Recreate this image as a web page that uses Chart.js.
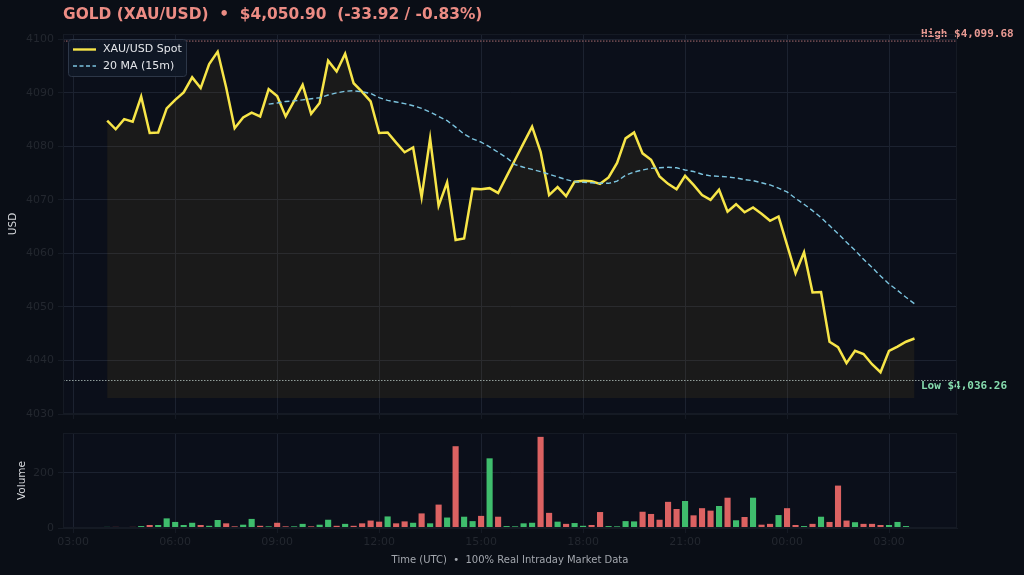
<!DOCTYPE html>
<html>
<head>
<meta charset="utf-8">
<script src="https://cdn.jsdelivr.net/npm/chart.js@4.4.1/dist/chart.umd.min.js"></script>
<style>
  html, body { margin: 0; padding: 0; background: #0a0e16; }
  #wrap { position: relative; width: 1024px; height: 575px; overflow: hidden; }
  #price { position: absolute; left: 0; top: 0; }
  #volume { position: absolute; left: 0; top: 420px; }
</style>
</head>
<body>
<div id="wrap">
  <canvas id="price" width="1024" height="420"></canvas>
  <canvas id="volume" width="1024" height="155"></canvas>
</div>
<script>
// 15-minute bars, 04:00 UTC to 03:45 UTC next day
const times = [
  '04:00','04:15','04:30','04:45','05:00','05:15','05:30','05:45',
  '06:00','06:15','06:30','06:45','07:00','07:15','07:30','07:45',
  '08:00','08:15','08:30','08:45','09:00','09:15','09:30','09:45',
  '10:00','10:15','10:30','10:45','11:00','11:15','11:30','11:45',
  '12:00','12:15','12:30','12:45','13:00','13:15','13:30','13:45',
  '14:00','14:15','14:30','14:45','15:00','15:15','15:30','15:45',
  '16:00','16:15','16:30','16:45','17:00','17:15','17:30','17:45',
  '18:00','18:15','18:30','18:45','19:00','19:15','19:30','19:45',
  '20:00','20:15','20:30','20:45','21:00','21:15','21:30','21:45',
  '22:00','22:15','22:30','22:45','23:00','23:15','23:30','23:45',
  '00:00','00:15','00:30','00:45','01:00','01:15','01:30','01:45',
  '02:00','02:15','02:30','02:45','03:00','03:15','03:30','03:45'
];

const spot = [
  4084.8, 4083.2, 4085.1, 4084.6, 4089.3, 4082.5, 4082.6, 4087.1,
  4088.7, 4090.1, 4092.9, 4090.9, 4095.4, 4097.7, 4091.0, 4083.4,
  4085.4, 4086.3, 4085.6, 4090.7, 4089.4, 4085.6, 4088.5, 4091.5,
  4086.1, 4088.1, 4096.0, 4094.0, 4097.3, 4091.8, 4090.2, 4088.4,
  4082.5, 4082.6, 4080.7, 4078.9, 4079.8, 4070.5, 4081.5, 4068.9,
  4073.3, 4062.5, 4062.8, 4072.1, 4072.0, 4072.2, 4071.3, 4074.4,
  4077.5, 4080.6, 4083.7, 4079.0, 4070.9, 4072.4, 4070.7, 4073.4,
  4073.6, 4073.5, 4073.0, 4074.2, 4076.9, 4081.5, 4082.6, 4078.7,
  4077.5, 4074.4, 4073.0, 4072.0, 4074.5, 4072.8, 4070.9, 4070.0,
  4071.9, 4067.8, 4069.2, 4067.7, 4068.6, 4067.4, 4066.1, 4066.9,
  4061.6, 4056.3, 4060.2, 4052.7, 4052.8, 4043.5, 4042.5, 4039.5,
  4041.8, 4041.2, 4039.3, 4037.8, 4041.8, 4042.6, 4043.5, 4044.1
];

const ma20 = [
  null, null, null, null, null, null, null, null,
  null, null, null, null, null, null, null, null,
  null, null, null, 4087.9, 4088.1, 4088.4, 4088.5, 4088.7,
  4088.9, 4089.1, 4089.6, 4090.0, 4090.3, 4090.4, 4090.2, 4089.9,
  4089.1, 4088.6, 4088.3, 4088.0, 4087.6, 4087.1, 4086.4, 4085.6,
  4084.8, 4083.6, 4082.3, 4081.4, 4080.8, 4079.9, 4078.9, 4077.9,
  4076.6, 4076.1, 4075.7, 4075.3, 4074.8, 4074.3, 4073.8, 4073.4,
  4073.3, 4073.2, 4073.1, 4073.1, 4073.5, 4074.6, 4075.2, 4075.6,
  4075.9, 4076.0, 4076.1, 4076.0, 4075.6, 4075.3, 4074.8, 4074.5,
  4074.4, 4074.3, 4074.1, 4073.8, 4073.6, 4073.2, 4072.8, 4072.2,
  4071.5, 4070.3, 4069.2, 4068.0, 4066.7, 4065.2, 4063.7, 4062.1,
  4060.6, 4058.9, 4057.4, 4055.8, 4054.3, 4053.1, 4051.8, 4050.6
];

const volume = [
  4, 4, 3, 4, 7, 11, 11, 35,
  22, 11, 19, 11, 8, 29, 17, 6,
  12, 33, 8, 6, 19, 6, 6, 15,
  6, 12, 30, 8, 15, 8, 17, 27,
  23, 42, 17, 24, 19, 53, 17, 85,
  38, 297, 41, 25, 44, 253, 41, 7,
  6, 17, 19, 331, 55, 23, 15, 18,
  8, 11, 58, 7, 6, 25, 24, 59,
  51, 30, 95, 69, 98, 46, 72, 63,
  80, 110, 28, 40, 110, 12, 15, 47,
  72, 11, 7, 15, 41, 22, 154, 27,
  21, 15, 15, 11, 11, 22, 7, 0
];

const tickHours = [3, 6, 9, 12, 15, 18, 21, 24, 27];
const tickLabels = ['03:00', '06:00', '09:00', '12:00', '15:00', '18:00', '21:00', '00:00', '03:00'];
const priceTicks = [4030, 4040, 4050, 4060, 4070, 4080, 4090, 4100];
const volumeTicks = [0, 200];

const highValue = 4099.68;
const lowValue = 4036.26;
const lastPrice = '$4,050.90';
const changeText = '(-33.92 / -0.83%)';

// time strings -> hours on one continuous axis (wraps past midnight)
const hours = [];
let dayOffset = 0;
times.forEach((t, i) => {
  const [h, m] = t.split(':').map(Number);
  let v = h + m / 60 + dayOffset;
  if (i > 0 && v < hours[i - 1]) { dayOffset += 24; v += 24; }
  hours.push(v);
});

const xMin = 2.7;
const xMax = 29.0;
const PLOT_BG = '#0b0f1a';
const GRID = '#1c2230';
const SPINE = '#151a24';
const TICK_TXT = '#23272f';
const FONT = '"DejaVu Sans", sans-serif';

Chart.defaults.font.family = FONT;
Chart.defaults.animation = false;

const plotBg = {
  id: 'plotBg',
  beforeDraw(chart) {
    const { ctx, chartArea: a } = chart;
    ctx.save();
    ctx.fillStyle = PLOT_BG;
    ctx.fillRect(a.left, a.top, a.right - a.left, a.bottom - a.top);
    ctx.restore();
  },
  afterDraw(chart) {
    const { ctx, chartArea: a } = chart;
    ctx.save();
    ctx.strokeStyle = SPINE;
    ctx.lineWidth = 1;
    ctx.strokeRect(a.left + 0.5, a.top + 0.5, a.right - a.left - 1, a.bottom - a.top - 1);
    ctx.restore();
  }
};

const fmt = v => '$' + v.toLocaleString('en-US', { minimumFractionDigits: 2, maximumFractionDigits: 2 });

const priceDecor = {
  id: 'priceDecor',
  afterDatasetsDraw(chart) {
    const { ctx, chartArea: a, scales: { y } } = chart;
    const yh = y.getPixelForValue(highValue);
    const yl = y.getPixelForValue(lowValue);
    ctx.save();
    ctx.lineWidth = 1;
    ctx.setLineDash([1.5, 1.5]);
    ctx.strokeStyle = 'rgba(220,140,140,0.75)';
    ctx.beginPath(); ctx.moveTo(a.left, yh); ctx.lineTo(a.right, yh); ctx.stroke();
    ctx.strokeStyle = 'rgba(190,205,200,0.75)';
    ctx.beginPath(); ctx.moveTo(a.left, yl); ctx.lineTo(a.right, yl); ctx.stroke();
    ctx.setLineDash([]);

    ctx.font = 'bold 11px "DejaVu Sans Mono", monospace';
    ctx.textBaseline = 'middle';
    ctx.textAlign = 'left';
    ctx.fillStyle = '#e89a93';
    ctx.fillText('High ' + fmt(highValue), a.right - 36, yh - 7);
    ctx.fillStyle = '#86dcae';
    ctx.fillText('Low ' + fmt(lowValue), a.right - 36, yl + 5.5);

    // legend
    const lx = 68.5, ly = 39.5, lw = 118, lh = 37;
    ctx.fillStyle = 'rgba(16,24,38,0.92)';
    ctx.strokeStyle = '#2d3748';
    ctx.beginPath();
    ctx.roundRect(lx, ly, lw, lh, 3);
    ctx.fill(); ctx.stroke();
    ctx.lineWidth = 2.4;
    ctx.strokeStyle = '#f7e548';
    ctx.beginPath(); ctx.moveTo(73, 49.5); ctx.lineTo(96, 49.5); ctx.stroke();
    ctx.lineWidth = 1.5;
    ctx.setLineDash([4, 2.5]);
    ctx.strokeStyle = '#7cc4df';
    ctx.beginPath(); ctx.moveTo(73, 66); ctx.lineTo(96, 66); ctx.stroke();
    ctx.setLineDash([]);
    ctx.font = '11px ' + FONT;
    ctx.fillStyle = '#e4e6ea';
    ctx.fillText('XAU/USD Spot', 103, 49.5);
    ctx.fillText('20 MA (15m)', 103, 66);

    // title
    ctx.font = 'bold 15.4px ' + FONT;
    ctx.fillStyle = '#ec8c84';
    ctx.fillText('GOLD (XAU/USD)  \u2022  ' + lastPrice + '  ' + changeText, 63, 15);
    ctx.restore();
  }
};

const xTicksAt = s => { s.ticks = tickHours.map(v => ({ value: v })); };
const fitY = s => { s.width = 63; s.paddingTop = 0; s.paddingBottom = 0; };

new Chart(document.getElementById('price'), {
  type: 'line',
  data: {
    datasets: [
      {
        label: 'XAU/USD Spot',
        data: spot.map((v, i) => ({ x: hours[i], y: v })),
        borderColor: '#f7e548',
        borderWidth: 2.5,
        pointRadius: 0,
        tension: 0,
        fill: { value: 4033 },
        backgroundColor: 'rgba(171,125,25,0.10)',
        order: 2
      },
      {
        label: '20 MA (15m)',
        data: ma20.map((v, i) => ({ x: hours[i], y: v })),
        borderColor: '#7cc4df',
        borderWidth: 1.4,
        borderDash: [5, 3],
        pointRadius: 0,
        tension: 0,
        fill: false,
        order: 1
      }
    ]
  },
  options: {
    responsive: false,
    layout: { padding: { top: 34, right: 67, bottom: 0, left: 0 } },
    plugins: { legend: { display: false }, tooltip: { enabled: false } },
    scales: {
      x: {
        type: 'linear', min: xMin, max: xMax, offset: false,
        afterBuildTicks: xTicksAt,
        ticks: { display: false },
        grid: { color: GRID, tickLength: 5, tickColor: SPINE, offset: false },
        border: { color: SPINE },
        afterFit: s => { s.height = 6; s.paddingLeft = 0; s.paddingRight = 0; }
      },
      y: {
        min: 4030, max: 4101,
        afterBuildTicks: s => { s.ticks = priceTicks.map(v => ({ value: v })); },
        ticks: { color: TICK_TXT, font: { size: 11 }, padding: 4, callback: v => String(v) },
        grid: { color: GRID, tickLength: 5, tickColor: SPINE },
        border: { color: SPINE },
        title: { display: true, text: 'USD', color: '#d6d8dc', font: { size: 10.5 }, padding: { top: 7, bottom: 0 } },
        afterFit: fitY
      }
    }
  },
  plugins: [plotBg, priceDecor]
});

new Chart(document.getElementById('volume'), {
  type: 'bar',
  data: {
    datasets: [{
      label: 'Volume',
      data: volume.map((v, i) => ({ x: hours[i], y: v })),
      backgroundColor: volume.map((v, i) => (i === 0 || spot[i] >= spot[i - 1]) ? '#3fbd6d' : '#dc6262'),
      borderWidth: 0,
      barPercentage: 0.72,
      categoryPercentage: 1
    }]
  },
  options: {
    responsive: false,
    layout: { padding: { top: 13, right: 67, bottom: 0, left: 0 } },
    plugins: { legend: { display: false }, tooltip: { enabled: false } },
    scales: {
      x: {
        type: 'linear', min: xMin, max: xMax, offset: false,
        afterBuildTicks: xTicksAt,
        ticks: { color: TICK_TXT, font: { size: 11 }, padding: 3, maxRotation: 0, autoSkip: false,
                 callback: v => tickLabels[tickHours.indexOf(v)] },
        grid: { color: GRID, tickLength: 5, tickColor: SPINE, offset: false },
        border: { color: SPINE },
        title: { display: true, text: 'Time (UTC)  \u2022  100% Real Intraday Market Data', color: '#a3a7ae', font: { size: 10 }, padding: { top: 0, bottom: 9 } },
        afterFit: s => { s.height = 47; s.paddingLeft = 0; s.paddingRight = 0; }
      },
      y: {
        min: 0, max: 345,
        afterBuildTicks: s => { s.ticks = volumeTicks.map(v => ({ value: v })); },
        ticks: { color: TICK_TXT, font: { size: 11 }, padding: 4 },
        grid: { color: GRID, tickLength: 5, tickColor: SPINE },
        border: { color: SPINE },
        title: { display: true, text: 'Volume', color: '#d6d8dc', font: { size: 10.5 }, padding: { top: 16, bottom: 0 } },
        afterFit: fitY
      }
    }
  },
  plugins: [plotBg]
});
</script>
</body>
</html>
